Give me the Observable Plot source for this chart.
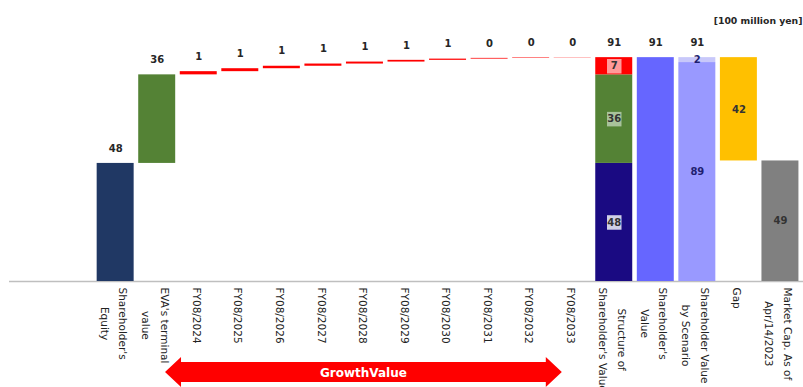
<!DOCTYPE html>
<html>
<head>
<meta charset="utf-8">
<script src="https://cdn.jsdelivr.net/npm/d3@7"></script>
<script src="https://cdn.jsdelivr.net/npm/@observablehq/plot@0.6"></script>
<style>
  body { margin: 0; background: #fff; }
  #chart svg { display: block; }
</style>
</head>
<body>
<div id="chart"></div>
<script>
// ---------- data ----------
const leftBlanks = ["", " "]; // empty category slots at the left of the axis
const growthYears = ["FY08/2024", "FY08/2025", "FY08/2026", "FY08/2027", "FY08/2028",
                     "FY08/2029", "FY08/2030", "FY08/2031", "FY08/2032", "FY08/2033"];
const categories = ["Shareholder's\nEquity", "EVA's terminal\nvalue", ...growthYears,
                    "Structure of\nShareholder's Value", "Shareholder's\nValue",
                    "Shareholder Value\nby Scenario", "Gap", "Market Cap. As of\nApr/14/2023"];
const equity = 48;
const evaTerminal = 36;
const growthValues = [1.3, 1.2, 1.0, 0.9, 0.8, 0.7, 0.5, 0.3, 0.2, 0.1];
const growthTotal = 7;
const shareholderValue = 91;
const scenarioValues = [89, 2];
const marketCap = 49;
const gap = 42;
const unitLabel = "[100 million yen]";
const arrowLabel = "GrowthValue";

// ---------- styles ----------
const colors = {
  equity: "#203864", eva: "#548235", growth: "#ff0000",
  structNavy: "#1a0a82", structGreen: "#548235", structRed: "#ff0000",
  sv: "#6666ff", scenario: "#9999ff", scenarioTop: "#c8c8fa",
  gap: "#ffc000", market: "#808080"
};
const boxColors = { navy: "#cfcfe6", green: "#a9c29b", red: "#ff9a9a" };

// ---------- build rows ----------
const C = categories;
const bars = [];
const topLabels = [];
bars.push({cat: C[0], y1: 0, y2: equity, fill: colors.equity});
topLabels.push({cat: C[0], y: equity, text: String(equity)});
bars.push({cat: C[1], y1: equity, y2: equity + evaTerminal, fill: colors.eva});
topLabels.push({cat: C[1], y: equity + evaTerminal, text: String(evaTerminal)});
let cum = equity + evaTerminal;
growthYears.forEach((g, i) => {
  bars.push({cat: g, y1: cum, y2: cum + growthValues[i], fill: colors.growth});
  cum += growthValues[i];
  topLabels.push({cat: g, y: cum, text: String(Math.round(growthValues[i]))});
});
const structCat = C[12];
bars.push({cat: structCat, y1: 0, y2: equity, fill: colors.structNavy});
bars.push({cat: structCat, y1: equity, y2: equity + evaTerminal, fill: colors.structGreen});
bars.push({cat: structCat, y1: equity + evaTerminal, y2: shareholderValue, fill: colors.structRed});
topLabels.push({cat: structCat, y: shareholderValue, text: String(shareholderValue)});
bars.push({cat: C[13], y1: 0, y2: shareholderValue, fill: colors.sv});
topLabels.push({cat: C[13], y: shareholderValue, text: String(shareholderValue)});
bars.push({cat: C[14], y1: 0, y2: scenarioValues[0], fill: colors.scenario});
bars.push({cat: C[14], y1: scenarioValues[0], y2: scenarioValues[0] + scenarioValues[1], fill: colors.scenarioTop});
topLabels.push({cat: C[14], y: shareholderValue, text: String(shareholderValue)});
bars.push({cat: C[15], y1: marketCap, y2: marketCap + gap, fill: colors.gap});
bars.push({cat: C[16], y1: 0, y2: marketCap, fill: colors.market});

const boxedLabels = [
  {cat: structCat, y: equity / 2, text: String(equity), box: boxColors.navy},
  {cat: structCat, y: equity + evaTerminal / 2, text: String(evaTerminal), box: boxColors.green},
  {cat: structCat, y: equity + evaTerminal + growthTotal / 2, text: String(growthTotal), box: boxColors.red}
];
const innerLabels = [
  {cat: C[14], y: scenarioValues[0] / 2, text: String(scenarioValues[0]), color: "#1f1f70"},
  {cat: C[14], y: scenarioValues[0] + scenarioValues[1] / 2, text: String(scenarioValues[1]), color: "#1f1f70"},
  {cat: C[15], y: marketCap + gap / 2, text: String(gap), color: "#333333"},
  {cat: C[16], y: marketCap / 2, text: String(marketCap), color: "#333333"}
];

// ---------- tick labels (rotated, centre aligned lines) ----------
const tickFont = 10.5;
const ctx = document.createElement("canvas").getContext("2d");
ctx.font = `${tickFont}px 'DejaVu Sans'`;
const tickMarks = categories.map(c => {
  const w = Math.max(...c.split("\n").map(s => ctx.measureText(s).width));
  return Plot.text([c], {
    x: d => d, frameAnchor: "bottom", rotate: 90, textAnchor: "middle",
    lineAnchor: "middle", lineHeight: 1.75, fontSize: tickFont, fill: "#222",
    dy: 6 + w / 2
  });
});

// ---------- GrowthValue arrow ----------
function growthArrow(index, scales, values, dimensions) {
  const x = scales.x;
  const step = x(categories[1]) - x(categories[0]);
  const bw = typeof x.bandwidth === "function" ? x.bandwidth() : step * 0.89;
  const c0 = x(growthYears[0]) + bw / 2;
  const c1 = x(growthYears[growthYears.length - 1]) + bw / 2;
  const L = c0 - 0.8 * step, R = c1 - 0.25 * step;
  const cy = dimensions.height - 15;
  const head = 16, bodyH = 10, headH = 15;
  const pts = [[L, cy], [L + head, cy - headH], [L + head, cy - bodyH], [R - head, cy - bodyH],
               [R - head, cy - headH], [R, cy], [R - head, cy + headH], [R - head, cy + bodyH],
               [L + head, cy + bodyH], [L + head, cy + headH]];
  const g = d3.create("svg:g");
  g.append("polygon").attr("points", pts.map(p => p.join(",")).join(" ")).attr("fill", "#ff0000");
  g.append("text").attr("x", (L + R) / 2).attr("y", cy + 1)
    .attr("text-anchor", "middle").attr("dominant-baseline", "central")
    .attr("fill", "#fff").attr("font-weight", "bold").attr("font-size", 12)
    .attr("font-family", "DejaVu Sans").text(arrowLabel);
  return g.node();
}

const chart = Plot.plot({
  width: 803,
  height: 387,
  marginLeft: 9,
  marginRight: 0,
  marginTop: 35,
  marginBottom: 106,
  x: {domain: [...leftBlanks, ...categories], padding: 0.11, round: false, axis: null},
  y: {domain: [0, 100], axis: null},
  color: {type: "identity"},
  style: {fontFamily: "DejaVu Sans", background: "#fff", overflow: "visible"},
  marks: [
    Plot.ruleY([0], {stroke: "#bfbfbf", strokeWidth: 1.5}),
    Plot.barY(bars, {x: "cat", y1: "y1", y2: "y2", fill: "fill"}),
    Plot.text(topLabels, {x: "cat", y: "y", text: "text", dy: -15, fontSize: 10, fontWeight: "bold", fill: "#262626"}),
    Plot.dot(boxedLabels, {x: "cat", y: "y", symbol: "square", r: 8.2, fill: "box", stroke: null}),
    Plot.text(boxedLabels, {x: "cat", y: "y", text: "text", fontSize: 10, fontWeight: "bold", fill: "#333"}),
    Plot.text(innerLabels, {x: "cat", y: "y", text: "text", fontSize: 10, fontWeight: "bold", fill: "color"}),
    ...tickMarks,
    growthArrow,
    Plot.text([unitLabel], {frameAnchor: "top-right", textAnchor: "end", dy: -18, dx: -1, fontSize: 9.3, fontWeight: "bold", fill: "#262626"})
  ]
});
document.getElementById("chart").append(chart);
</script>
</body>
</html>
